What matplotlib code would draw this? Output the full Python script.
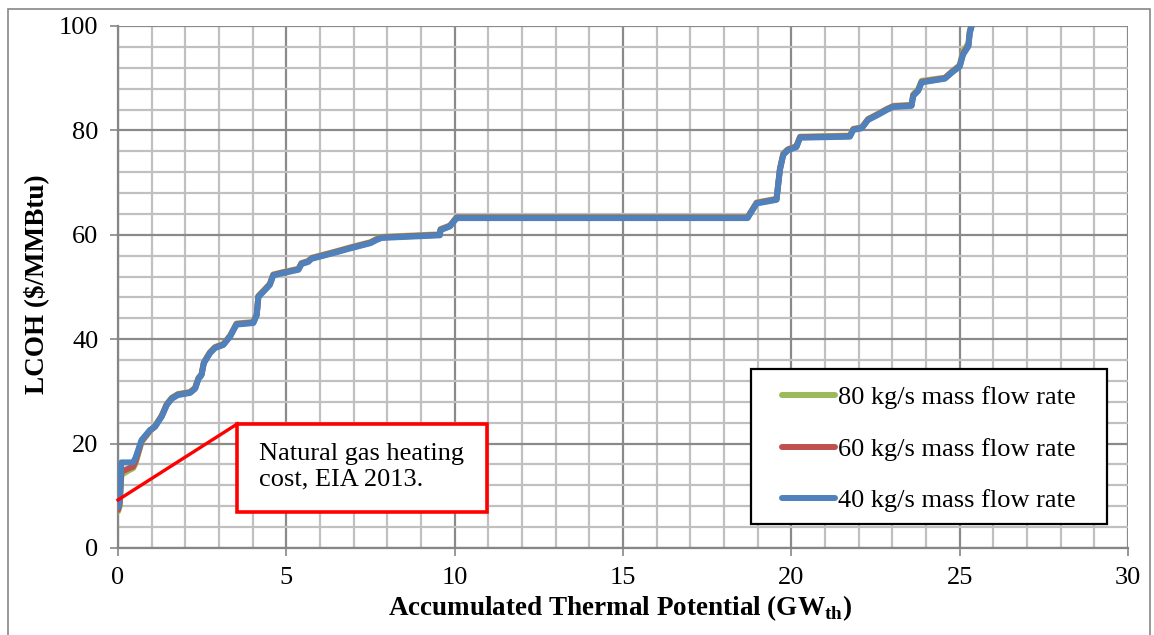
import numpy as np
import matplotlib
matplotlib.use("Agg")
import matplotlib.pyplot as plt
from matplotlib.patches import Rectangle
from matplotlib.ticker import MultipleLocator

plt.rcParams['font.family'] = ['Liberation Serif', 'DejaVu Serif']
plt.rcParams['mathtext.fontset'] = 'custom'
plt.rcParams['mathtext.rm'] = 'Liberation Serif'
plt.rcParams['mathtext.bf'] = 'Liberation Serif:bold'

# accumulated thermal potential (GWth)
gw = [0.0, 0.05, 0.1, 0.3, 0.45, 0.52, 0.7, 0.95, 1.1, 1.3,
      1.45, 1.6, 1.78, 2.14, 2.29, 2.39, 2.48, 2.55, 2.73, 2.88,
      3.13, 3.33, 3.52, 4.02, 4.12, 4.17, 4.32, 4.51, 4.61, 4.86,
      5.36, 5.45, 5.65, 5.75, 6.4, 6.9, 7.5, 7.68, 7.83, 9.56,
      9.58, 9.86, 10.06, 18.7, 18.97, 19.56, 19.66, 19.76, 19.9, 20.15,
      20.26, 21.74, 21.84, 22.09, 22.28, 22.58, 22.83, 23.03, 23.57, 23.62,
      23.77, 23.87, 24.56, 24.81, 25.0, 25.1, 25.26, 25.3, 25.38, 25.6]

# LCOH ($/MMBtu) for each mass flow rate
lcoh_40 = [7.8, 9.0, 16.4, 16.4, 16.4, 17.3, 20.7, 22.6, 23.2, 25.2,
           27.4, 28.6, 29.3, 29.7, 30.5, 32.4, 33.1, 35.4, 37.3, 38.3,
           38.9, 40.5, 42.8, 43.1, 44.6, 48.1, 49.1, 50.4, 52.2, 52.6,
           53.3, 54.4, 54.8, 55.4, 56.5, 57.4, 58.4, 59.0, 59.4, 59.9,
           60.9, 61.6, 63.2, 63.2, 66.0, 66.7, 72.4, 75.3, 76.2, 76.8,
           78.6, 78.8, 80.1, 80.4, 82.0, 83.0, 83.9, 84.5, 84.7, 86.6,
           87.6, 89.2, 89.9, 91.3, 92.2, 94.5, 96.1, 98.6, 100.5, 101.0]
lcoh_60 = [7.3, 8.5, 14.6, 15.2, 15.6, 16.6, 20.5, 22.5, 23.3, 25.3,
           27.5, 28.7, 29.4, 29.8, 30.6, 32.5, 33.2, 35.5, 37.4, 38.4,
           39.0, 40.6, 42.9, 43.2, 44.7, 48.2, 49.2, 50.5, 52.3, 52.7,
           53.4, 54.5, 54.9, 55.5, 56.6, 57.5, 58.5, 59.1, 59.5, 60.0,
           61.0, 61.7, 63.3, 63.3, 66.1, 66.8, 72.5, 75.4, 76.3, 76.9,
           78.7, 78.9, 80.2, 80.5, 82.1, 83.1, 84.0, 84.6, 84.8, 86.7,
           87.7, 89.3, 90.0, 91.4, 92.3, 94.7, 96.3, 98.8, 100.7, 101.2]
lcoh_80 = [7.0, 8.0, 14.0, 14.8, 15.3, 16.2, 20.3, 22.4, 23.4, 25.4,
           27.6, 28.8, 29.5, 29.9, 30.7, 32.6, 33.3, 35.6, 37.5, 38.5,
           39.1, 40.7, 43.0, 43.3, 44.8, 48.3, 49.3, 50.6, 52.4, 52.8,
           53.5, 54.6, 55.0, 55.6, 56.7, 57.6, 58.6, 59.2, 59.6, 60.1,
           61.1, 61.8, 63.4, 63.4, 66.2, 66.9, 72.7, 75.6, 76.4, 77.0,
           78.8, 79.0, 80.3, 80.6, 82.2, 83.2, 84.1, 84.7, 84.9, 86.9,
           87.9, 89.5, 90.1, 91.5, 92.5, 95.1, 96.7, 99.1, 100.9, 101.4]

series = [("80 kg/s mass flow rate", lcoh_80, "#9BBB59"),
          ("60 kg/s mass flow rate", lcoh_60, "#C0504D"),
          ("40 kg/s mass flow rate", lcoh_40, "#4F81BD")]

fig = plt.figure(figsize=(11.54, 6.35), dpi=100)
ax = fig.add_axes([118 / 1154, 1 - 548 / 635, 1010 / 1154, 522 / 635])

for label, y, c in series:
    ax.plot(gw, y, color=c, lw=4.3, label=label, solid_capstyle='round',
            solid_joinstyle='round', zorder=3)

ax.set_xlim(0, 30)
ax.set_ylim(0, 100)
ax.xaxis.set_major_locator(MultipleLocator(5))
ax.xaxis.set_minor_locator(MultipleLocator(1))
ax.yaxis.set_major_locator(MultipleLocator(20))
ax.yaxis.set_minor_locator(MultipleLocator(4))
ax.grid(which='minor', color='#C0C0C0', lw=1.6, zorder=0)
ax.grid(which='major', color='#8A8A8A', lw=1.6, zorder=0)
ax.set_axisbelow(True)
for s in ['top', 'right']:
    ax.spines[s].set_visible(False)
for s in ['left', 'bottom']:
    ax.spines[s].set_color('#868686')
    ax.spines[s].set_linewidth(1.6)
ax.tick_params(which='major', length=6, width=1.2, color='#868686',
               labelsize=19, pad=8)
ax.tick_params(which='minor', length=0)

# annotation: natural gas heating cost
ax.plot([0, 3.55], [9.2, 23.8], color='#FF0000', lw=2.4, zorder=4, clip_on=False)
ax.add_patch(Rectangle((3.53, 6.9), 7.43, 16.85, facecolor='white',
                       edgecolor='#FF0000', lw=2.6, zorder=5))
ax.text(4.2, 15.6, "Natural gas heating\ncost, EIA 2013.", fontsize=19,
        va='center', ha='left', zorder=6, linespacing=1.22)

# legend frame drawn by hand, entries placed inside it
ax.add_patch(Rectangle((751 / 1154, 1 - 524 / 635), 356 / 1154, 155 / 635,
                       transform=fig.transFigure, facecolor='white',
                       edgecolor='black', lw=1.6, zorder=6, clip_on=False))
leg = ax.legend(loc='upper left', bbox_to_anchor=(782 / 1154, 1 - 386 / 635),
                bbox_transform=fig.transFigure, fontsize=19, frameon=False,
                handlelength=2.0, handletextpad=0.12, labelspacing=1.06,
                borderpad=0, borderaxespad=0)
leg.set_zorder(7)

fig.text(36 / 1154, 1 - 284 / 635, "LCOH ($/MMBtu)", rotation=90, fontsize=19.5,
         fontweight='bold', ha='center', va='center')
fig.text(620 / 1154, 1 - 608 / 635,
         r"Accumulated Thermal Potential (GW$_{\mathbf{th}}$)",
         fontsize=19.5, fontweight='bold', ha='center', va='center')

fig.patches.append(Rectangle((8 / 1154, -0.01), 1142 / 1154, 1 - 9 / 635 + 0.01,
                             transform=fig.transFigure, fill=False,
                             edgecolor='#868686', lw=1.2))

fig.savefig("out.png", dpi=100)
